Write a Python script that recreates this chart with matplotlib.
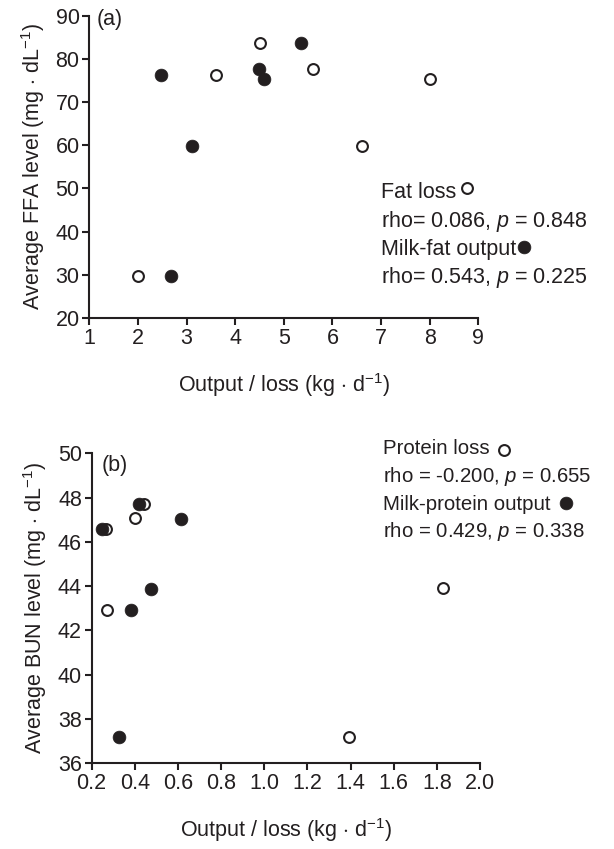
import matplotlib
matplotlib.use("Agg")
import matplotlib.pyplot as plt

plt.rcParams['font.family'] = ['Liberation Sans', 'DejaVu Sans']
plt.rcParams['mathtext.fontset'] = 'custom'
plt.rcParams['mathtext.rm'] = 'Liberation Sans'
plt.rcParams['mathtext.it'] = 'Liberation Sans:italic'

INK = '#231f20'
FS = 15.5

# panel (a): FFA vs fat loss / milk-fat output
fat_loss_x = [2.01, 3.61, 4.51, 5.61, 6.61, 8.01]
fat_loss_y = [29.8, 76.2, 83.6, 77.6, 59.7, 75.3]
milk_fat_x = [2.47, 2.68, 3.11, 4.49, 4.59, 5.35]
milk_fat_y = [76.2, 29.8, 59.9, 77.6, 75.3, 83.7]

# panel (b): BUN vs protein loss / milk-protein output
prot_loss_x = [0.266, 0.272, 0.40, 0.442, 1.394, 1.827]
prot_loss_y = [46.6, 42.92, 47.1, 47.7, 37.17, 43.93]
milk_prot_x = [0.248, 0.325, 0.381, 0.421, 0.473, 0.614]
milk_prot_y = [46.6, 37.17, 42.92, 47.7, 43.87, 47.05]

xticks_a = [1, 2, 3, 4, 5, 6, 7, 8, 9]
yticks_a = [20, 30, 40, 50, 60, 70, 80, 90]
xticks_b = [0.2, 0.4, 0.6, 0.8, 1.0, 1.2, 1.4, 1.6, 1.8, 2.0]
yticks_b = [36, 38, 40, 42, 44, 46, 48, 50]

fig = plt.figure(figsize=(6.14, 8.49), dpi=100)
ax1 = fig.add_axes([0.1454, 0.6254, 0.6336, 0.3563])
ax2 = fig.add_axes([0.1493, 0.1009, 0.6325, 0.3651])

open_kw = dict(marker='o', ms=7.8, mfc='white', mec=INK, mew=1.5, ls='none', clip_on=False)
fill_kw = dict(marker='o', ms=9.2, mfc=INK, mec=INK, mew=0.5, ls='none', clip_on=False)


def style(ax, xt, yt, xfmt):
    for s in ['top', 'right']:
        ax.spines[s].set_visible(False)
    for s in ['left', 'bottom']:
        ax.spines[s].set_linewidth(1.5)
        ax.spines[s].set_color(INK)
    ax.set_xticks(xt)
    ax.set_yticks(yt)
    ax.set_xticklabels([xfmt(v) for v in xt])
    ax.set_xlim(xt[0], xt[-1])
    ax.set_ylim(yt[0], yt[-1])
    ax.tick_params(direction='out', length=5, width=1.5, color=INK,
                   labelsize=FS, labelcolor=INK, pad=2)
    ax.set_xlabel('Output / loss (kg $\\cdot$ d$^{-1}$)', fontsize=FS,
                  color=INK, labelpad=16)


ax1.plot(fat_loss_x, fat_loss_y, **open_kw)
ax1.plot(milk_fat_x, milk_fat_y, **fill_kw)
style(ax1, xticks_a, yticks_a, lambda v: f'{v:d}')
ax1.set_ylabel('Average FFA level (mg $\\cdot$ dL$^{-1}$)', fontsize=FS,
               color=INK, labelpad=6)
ax1.text(0.02, 0.969, '(a)', transform=ax1.transAxes, fontsize=FS,
         color=INK, va='baseline')

lines_a = ['Fat loss', 'rho= 0.086, $p$ = 0.848',
           'Milk-fat output', 'rho= 0.543, $p$ = 0.225']
ys_a = [0.396, 0.302, 0.208, 0.116]
for t, y in zip(lines_a, ys_a):
    ax1.text(0.75, y, t, transform=ax1.transAxes, fontsize=FS,
             color=INK, va='baseline')
ax1.plot([0.970], [0.429], transform=ax1.transAxes, **open_kw)
ax1.plot([1.117], [0.235], transform=ax1.transAxes, **fill_kw)

ax2.plot(prot_loss_x, prot_loss_y, **open_kw)
ax2.plot(milk_prot_x, milk_prot_y, **fill_kw)
style(ax2, xticks_b, yticks_b, lambda v: f'{v:.1f}')
ax2.set_ylabel('Average BUN level (mg $\\cdot$ dL$^{-1}$)', fontsize=FS,
               color=INK, labelpad=6)
ax2.text(0.026, 0.944, '(b)', transform=ax2.transAxes, fontsize=FS,
         color=INK, va='baseline')

lines_b = ['Protein loss', 'rho = -0.200, $p$ = 0.655',
           'Milk-protein output', 'rho = 0.429, $p$ = 0.338']
ys_b = [0.997, 0.908, 0.817, 0.731]
for t, y in zip(lines_b, ys_b):
    ax2.text(0.749, y, t, transform=ax2.transAxes, fontsize=14.7,
             color=INK, va='baseline')
ax2.plot([1.062], [1.011], transform=ax2.transAxes, **open_kw)
ax2.plot([1.222], [0.839], transform=ax2.transAxes, **fill_kw)

fig.savefig('out.png', dpi=100)
